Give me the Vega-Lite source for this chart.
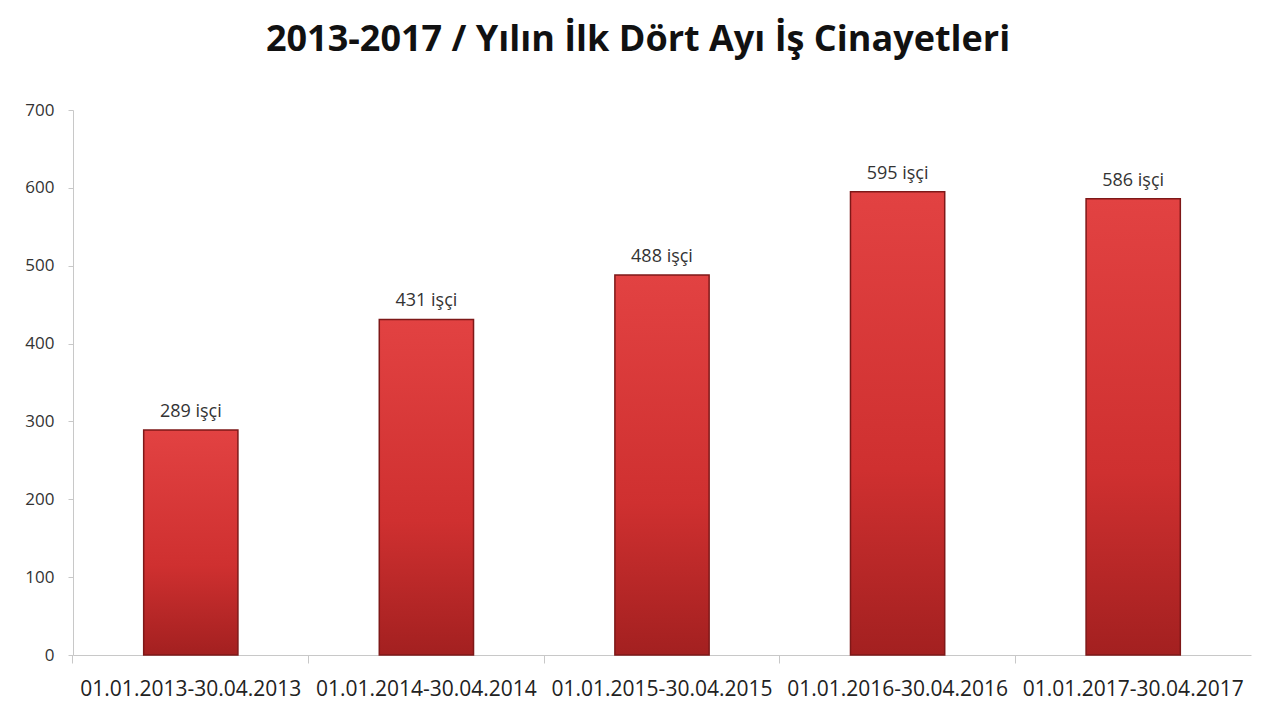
{
  "$schema": "https://vega.github.io/schema/vega-lite/v6.json",
  "autosize": "none",
  "width": 1178,
  "height": 545,
  "padding": {"left": 73, "top": 110, "right": 29, "bottom": 65},
  "background": "white",
  "view": {"stroke": null},
  "title": {
    "text": "2013-2017 / Yılın İlk Dört Ayı İş Cinayetleri",
    "font": "Open Sans",
    "fontSize": 36,
    "fontWeight": "bold",
    "color": "#111111",
    "anchor": "middle",
    "dx": -24,
    "offset": 42
  },
  "data": {
    "values": [
      {"donem": "01.01.2013-30.04.2013", "isci": 289, "etiket": "289 işçi"},
      {"donem": "01.01.2014-30.04.2014", "isci": 431, "etiket": "431 işçi"},
      {"donem": "01.01.2015-30.04.2015", "isci": 488, "etiket": "488 işçi"},
      {"donem": "01.01.2016-30.04.2016", "isci": 595, "etiket": "595 işçi"},
      {"donem": "01.01.2017-30.04.2017", "isci": 586, "etiket": "586 işçi"}
    ]
  },
  "encoding": {
    "x": {
      "field": "donem",
      "type": "nominal",
      "sort": null,
      "scale": {"paddingInner": 0.6, "paddingOuter": 0.3},
      "axis": {
        "title": null,
        "labelAngle": 0,
        "labelLimit": 0,
        "labelFont": "Open Sans",
        "labelFontSize": 21,
        "labelColor": "#222222",
        "labelPadding": 15,
        "labelBound": false,
        "labelOverlap": false,
        "bandPosition": -0.75,
        "tickSize": 8,
        "tickColor": "#c8c8c8",
        "domainColor": "#c8c8c8",
        "grid": false
      }
    },
    "y": {
      "field": "isci",
      "type": "quantitative",
      "scale": {"domain": [0, 700]},
      "axis": {
        "title": null,
        "values": [0, 100, 200, 300, 400, 500, 600, 700],
        "labelFont": "Open Sans",
        "labelFontSize": 17,
        "labelColor": "#333333",
        "labelPadding": 14,
        "tickSize": 5,
        "tickColor": "#c8c8c8",
        "domainColor": "#c8c8c8",
        "grid": false
      }
    }
  },
  "layer": [
    {
      "mark": {
        "type": "bar",
        "stroke": "#7e1818",
        "strokeWidth": 1.5,
        "color": {
          "gradient": "linear",
          "x1": 0, "y1": 0, "x2": 0, "y2": 1,
          "stops": [
            {"offset": 0, "color": "#e24242"},
            {"offset": 0.6, "color": "#cf3030"},
            {"offset": 1, "color": "#a32020"}
          ]
        }
      }
    },
    {
      "mark": {
        "type": "text",
        "dy": -18,
        "font": "Open Sans",
        "fontSize": 18,
        "color": "#333333"
      },
      "encoding": {
        "text": {"field": "etiket", "type": "nominal"}
      }
    }
  ]
}
